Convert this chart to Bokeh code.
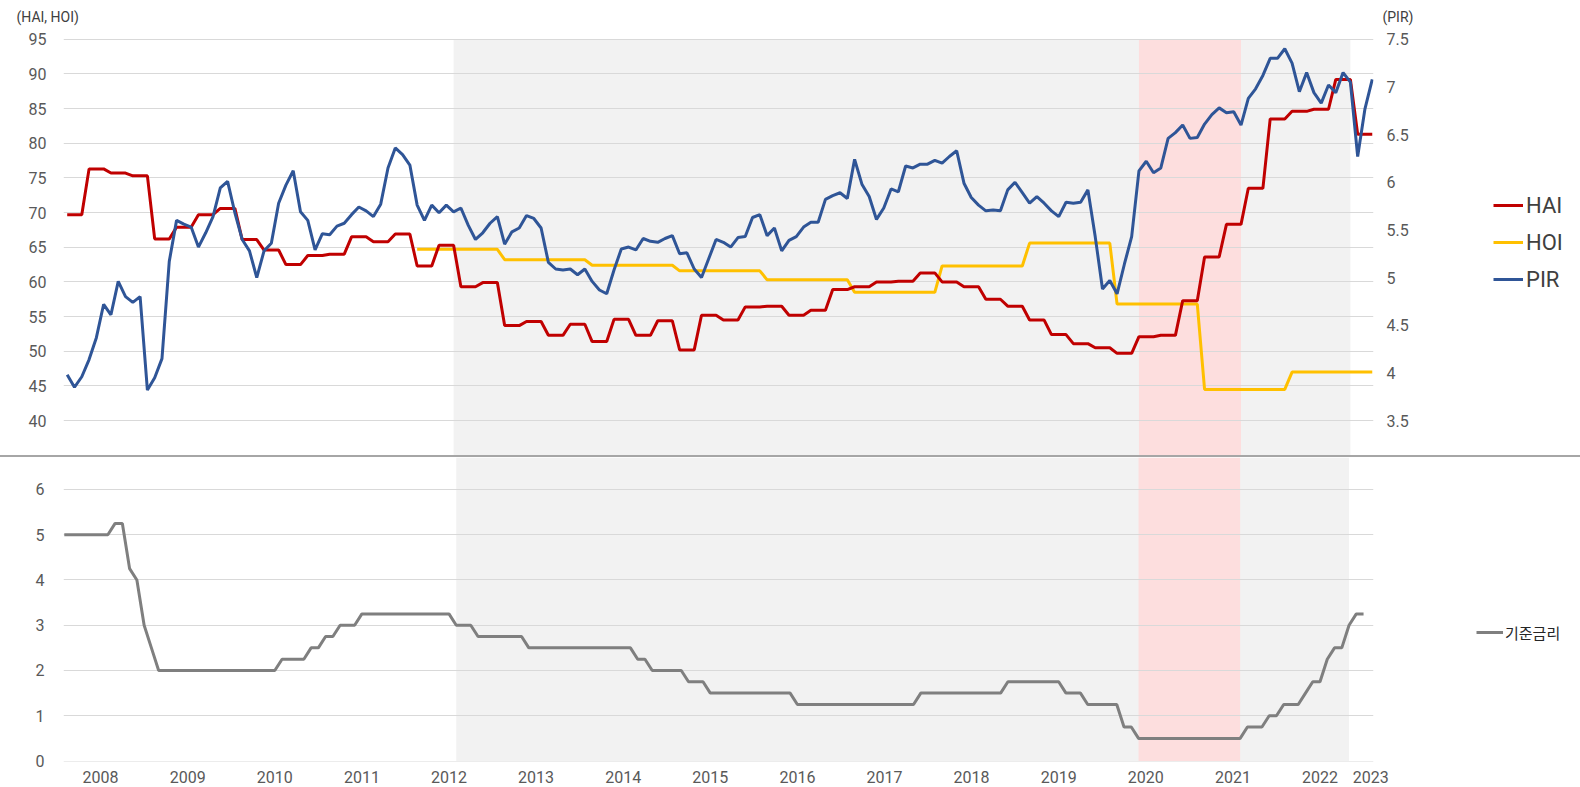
import numpy as np
from bokeh.plotting import figure
from bokeh.models import (Range1d, FixedTicker, BoxAnnotation, Legend, LegendItem,
                          Title)
from bokeh.layouts import column, row
from bokeh.embed import file_html
from bokeh.resources import INLINE
from bokeh.core.properties import value

# ---------------- data (monthly axis: Jan 2008 .. Dec 2022) ----------------
years = list(range(2008, 2023))
year_labels = [str(y) for y in range(2008, 2024)]

# HAI, quarterly (2008Q1 .. 2022Q4)
hai_quarterly = [
    69.7, 76.3, 75.7, 75.3,
    66.2, 67.9, 69.7, 70.6,
    66.1, 64.6, 62.5, 63.8,
    64.0, 66.5, 65.8, 66.9,
    62.3, 65.3, 59.3, 59.9,
    53.7, 54.3, 52.3, 53.9,
    51.4, 54.6, 52.3, 54.4,
    50.2, 55.2, 54.5, 56.4,
    56.5, 55.2, 55.9, 58.9,
    59.3, 60.0, 60.1, 61.3,
    60.0, 59.3, 57.5, 56.5,
    54.5, 52.4, 51.1, 50.5,
    49.7, 52.1, 52.3, 57.3,
    63.6, 68.3, 73.5, 83.5,
    84.6, 84.9, 89.2, 81.3,
]

# HOI, yearly (2012 .. 2022)
hoi_years = list(range(2012, 2023))
hoi_yearly = [64.7, 63.2, 62.4, 61.6, 60.3, 58.5, 62.3, 65.6, 56.8, 44.5, 47.0]

# PIR, monthly
pir_monthly = [
    3.98, 3.85, 3.96, 4.14, 4.37, 4.72, 4.61, 4.96, 4.80, 4.74, 4.80, 3.82,
    3.95, 4.15, 5.17, 5.60, 5.56, 5.53, 5.32, 5.47, 5.64, 5.94, 6.01, 5.68,
    5.40, 5.28, 5.00, 5.28, 5.36, 5.78, 5.97, 6.12, 5.69, 5.60, 5.29, 5.46,
    5.45, 5.54, 5.57, 5.66, 5.74, 5.70, 5.64, 5.77, 6.15, 6.36, 6.29, 6.18,
    5.76, 5.60, 5.76, 5.68, 5.76, 5.69, 5.73, 5.55, 5.40, 5.47, 5.57, 5.64,
    5.35, 5.48, 5.52, 5.65, 5.62, 5.52, 5.16, 5.09, 5.08, 5.09, 5.03, 5.09,
    4.96, 4.87, 4.83, 5.08, 5.30, 5.32, 5.29, 5.41, 5.38, 5.37, 5.41, 5.44,
    5.25, 5.26, 5.09, 5.00, 5.20, 5.40, 5.37, 5.32, 5.42, 5.43, 5.63, 5.66,
    5.44, 5.52, 5.28, 5.39, 5.43, 5.53, 5.58, 5.58, 5.82, 5.86, 5.89, 5.83,
    6.24, 5.98, 5.85, 5.61, 5.73, 5.93, 5.90, 6.17, 6.15, 6.19, 6.19, 6.23,
    6.20, 6.27, 6.33, 5.99, 5.84, 5.76, 5.70, 5.71, 5.70, 5.92, 6.00, 5.89,
    5.78, 5.85, 5.78, 5.70, 5.64, 5.79, 5.78, 5.79, 5.92, 5.43, 4.88, 4.97,
    4.83, 5.14, 5.43, 6.12, 6.22, 6.10, 6.15, 6.46, 6.52, 6.60, 6.46, 6.47,
    6.61, 6.71, 6.78, 6.73, 6.74, 6.60, 6.88, 6.98, 7.12, 7.30, 7.30, 7.40,
    7.25, 6.95, 7.15, 6.94, 6.83, 7.02, 6.94, 7.15, 7.05, 6.27, 6.77, 7.08,
]

# 기준금리 (base rate), monthly
base_rate_monthly = [
    5.00, 5.00, 5.00, 5.00, 5.00, 5.00, 5.00, 5.25, 5.25, 4.25, 4.00, 3.00,
    2.50, 2.00, 2.00, 2.00, 2.00, 2.00, 2.00, 2.00, 2.00, 2.00, 2.00, 2.00,
    2.00, 2.00, 2.00, 2.00, 2.00, 2.00, 2.25, 2.25, 2.25, 2.25, 2.50, 2.50,
    2.75, 2.75, 3.00, 3.00, 3.00, 3.25, 3.25, 3.25, 3.25, 3.25, 3.25, 3.25,
    3.25, 3.25, 3.25, 3.25, 3.25, 3.25, 3.00, 3.00, 3.00, 2.75, 2.75, 2.75,
    2.75, 2.75, 2.75, 2.75, 2.50, 2.50, 2.50, 2.50, 2.50, 2.50, 2.50, 2.50,
    2.50, 2.50, 2.50, 2.50, 2.50, 2.50, 2.50, 2.25, 2.25, 2.00, 2.00, 2.00,
    2.00, 2.00, 1.75, 1.75, 1.75, 1.50, 1.50, 1.50, 1.50, 1.50, 1.50, 1.50,
    1.50, 1.50, 1.50, 1.50, 1.50, 1.25, 1.25, 1.25, 1.25, 1.25, 1.25, 1.25,
    1.25, 1.25, 1.25, 1.25, 1.25, 1.25, 1.25, 1.25, 1.25, 1.25, 1.50, 1.50,
    1.50, 1.50, 1.50, 1.50, 1.50, 1.50, 1.50, 1.50, 1.50, 1.50, 1.75, 1.75,
    1.75, 1.75, 1.75, 1.75, 1.75, 1.75, 1.50, 1.50, 1.50, 1.25, 1.25, 1.25,
    1.25, 1.25, 0.75, 0.75, 0.50, 0.50, 0.50, 0.50, 0.50, 0.50, 0.50, 0.50,
    0.50, 0.50, 0.50, 0.50, 0.50, 0.50, 0.50, 0.75, 0.75, 0.75, 1.00, 1.00,
    1.25, 1.25, 1.25, 1.50, 1.75, 1.75, 2.25, 2.50, 2.50, 3.00, 3.25, 3.25,
]

left_ticks = [40, 45, 50, 55, 60, 65, 70, 75, 80, 85, 90, 95]
pir_ticks = [3.5, 4, 4.5, 5, 5.5, 6, 6.5, 7, 7.5]
pir_tick_labels = ["3.5", "4", "4.5", "5", "5.5", "6", "6.5", "7", "7.5"]
rate_ticks = [0, 1, 2, 3, 4, 5, 6]

# shaded periods (month index, 0 = Jan 2008)
gray_period = (54, 177)
pink_period = (148, 162)

# ---------------- derived series ----------------
months = np.arange(len(pir_monthly))
hai_monthly = np.repeat(hai_quarterly, 3)
hoi_monthly = np.full(len(months), np.nan)
start = (hoi_years[0] - years[0]) * 12
hoi_monthly[start:] = np.repeat(hoi_yearly, 12)

# ---------------- styling ----------------
TICK_COLOR = "#595959"
GRID_COLOR = "#D9D9D9"
FONT = "Roboto"
C_HAI, C_HOI, C_PIR, C_RATE = "#C00000", "#FFC000", "#2F5597", "#7F7F7F"
SEP = "2px solid #A6A6A6"
PIR_RANGE = (3.134, 7.581)


def style_axis(ax, standoff, size="16px"):
    ax.axis_line_color = None
    ax.major_tick_line_color = None
    ax.minor_tick_line_color = None
    ax.major_label_text_font = FONT
    ax.major_label_text_font_size = size
    ax.major_label_text_color = TICK_COLOR
    ax.major_label_standoff = standoff


def unit_title(text, offset):
    return Title(text=text, align="left", offset=offset, standoff=13,
                 text_font=FONT, text_font_size="14px", text_color="#404040",
                 text_font_style="normal")


def blank_fig(width, height, y_range, top_border, bottom_border, styles=None):
    f = figure(width=width, height=height, x_range=Range1d(0, width), y_range=y_range,
               output_backend="svg", toolbar_location=None, x_axis_location=None,
               y_axis_location=None, min_border_left=0, min_border_right=0,
               min_border_top=top_border, min_border_bottom=bottom_border,
               outline_line_color=None, styles=styles or {})
    f.grid.visible = False
    return f


# ---------------- top panel ----------------
top = figure(width=1375, height=455, x_range=Range1d(-0.507, 179.17),
             y_range=Range1d(34.97, 96.11), output_backend="svg",
             toolbar_location=None, x_axis_location=None, y_axis_location="left",
             min_border_left=63, min_border_right=2, min_border_top=30,
             min_border_bottom=0, outline_line_color=None)
top.extra_y_ranges = {"pir": Range1d(*PIR_RANGE)}
top.yaxis.ticker = FixedTicker(ticks=left_ticks)
style_axis(top.yaxis[0], 11)
top.xgrid.grid_line_color = None
top.ygrid.grid_line_color = GRID_COLOR
top.ygrid.ticker = FixedTicker(ticks=left_ticks)
top.title = unit_title("(HAI, HOI)", -47)

# the upper chart's shading sits one month earlier than the lower chart's
top.add_layout(BoxAnnotation(left=gray_period[0] - 1, right=gray_period[1] - 1, top=95,
                             fill_color="#F2F2F2", fill_alpha=1, line_color=None, level="image"))
top.add_layout(BoxAnnotation(left=pink_period[0] - 1, right=pink_period[1] - 1, top=95,
                             fill_color="#FDDEDE", fill_alpha=1, line_color=None, level="image"))

top.line(months, hoi_monthly, line_color=C_HOI, line_width=3)
top.line(months, hai_monthly, line_color=C_HAI, line_width=3)
top.line(months, pir_monthly, line_color=C_PIR, line_width=3, y_range_name="pir")

# right side of the upper chart: PIR scale, its unit and the legend
side_top = blank_fig(205, 455, Range1d(*PIR_RANGE), 30, 0)
side_top.title = unit_title("(PIR)", 7)
side_top.text(x=[11] * len(pir_ticks), y=pir_ticks, text=pir_tick_labels,
              text_font=value(FONT), text_font_size="16px", text_color=TICK_COLOR,
              text_baseline="middle", text_align="left")
d_hai = side_top.line([np.nan], [np.nan], line_color=C_HAI, line_width=3)
d_hoi = side_top.line([np.nan], [np.nan], line_color=C_HOI, line_width=3)
d_pir = side_top.line([np.nan], [np.nan], line_color=C_PIR, line_width=3)
side_top.add_layout(Legend(
    items=[LegendItem(label="HAI", renderers=[d_hai]),
           LegendItem(label="HOI", renderers=[d_hoi]),
           LegendItem(label="PIR", renderers=[d_pir])],
    location=(118, 163), glyph_width=30, glyph_height=26, label_height=26,
    label_text_font=FONT, label_text_font_size="22px", label_text_color="#404040",
    label_standoff=3, spacing=11, padding=0, margin=0, border_line_color=None,
    background_fill_alpha=0))

# ---------------- bottom panel ----------------
bot = figure(width=1395, height=330, x_range=Range1d(-0.11, 180.37),
             y_range=Range1d(-0.011, 6.707), output_backend="svg",
             toolbar_location=None, min_border_left=63, min_border_right=22,
             min_border_top=0, min_border_bottom=26, outline_line_color=None,
             styles={"border-top": SEP})
bot.yaxis.ticker = FixedTicker(ticks=rate_ticks)
style_axis(bot.yaxis[0], 13)
year_ticks = [12 * k + 5 for k in range(len(years))] + [len(years) * 12]
bot.xaxis.ticker = FixedTicker(ticks=year_ticks)
bot.xaxis.major_label_overrides = {t: lab for t, lab in zip(year_ticks, year_labels)}
style_axis(bot.xaxis[0], 3)
bot.xgrid.grid_line_color = None
bot.ygrid.grid_line_color = GRID_COLOR

bot.add_layout(BoxAnnotation(left=gray_period[0], right=gray_period[1], bottom=0,
                             fill_color="#F2F2F2", fill_alpha=1, line_color=None, level="image"))
bot.add_layout(BoxAnnotation(left=pink_period[0], right=pink_period[1], bottom=0,
                             fill_color="#FDDEDE", fill_alpha=1, line_color=None, level="image"))

bot.line(months, base_rate_monthly, line_color=C_RATE, line_width=3)

side_bot = blank_fig(185, 330, Range1d(0, 304), 0, 26, styles={"border-top": SEP})
d_rate = side_bot.line([np.nan], [np.nan], line_color=C_RATE, line_width=3)
side_bot.add_layout(Legend(
    items=[LegendItem(label="기준금리", renderers=[d_rate])],
    location=(81, 118), glyph_width=27, glyph_height=22, label_height=22,
    label_text_font="Noto Sans CJK KR", label_text_font_size="15px",
    label_text_color="#262626", label_standoff=2, padding=0, margin=0,
    border_line_color=None, background_fill_alpha=0))

layout = column(row(top, side_top, spacing=0), row(bot, side_bot, spacing=0), spacing=0)
open("out.html", "w").write(file_html(layout, INLINE))
